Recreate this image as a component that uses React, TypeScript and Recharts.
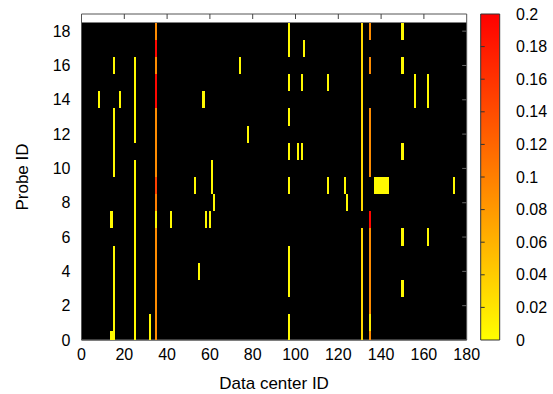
import { ComposedChart, BarChart, Bar, Scatter, XAxis, YAxis, ReferenceArea, ReferenceLine } from 'recharts'

const xTicks = [0, 20, 40, 60, 80, 100, 120, 140, 160, 180]
const yTicks = [0, 2, 4, 6, 8, 10, 12, 14, 16, 18]
const cbTicks = [0, 0.02, 0.04, 0.06, 0.08, 0.1, 0.12, 0.14, 0.16, 0.18, 0.2]

// [data center id, first probe id, last probe id, value]
const cells: [number, number, number, number][] = [
  [8, 14, 14, 0.005],
  [14, 7, 7, 0.005], [14, 0, 0, 0.005],
  [15, 16, 16, 0.005], [15, 10, 13, 0.005], [15, 0, 5, 0.005],
  [18, 14, 14, 0.005],
  [25, 12, 16, 0.005], [25, 0, 10, 0.005],
  [32, 0, 1, 0.005],
  [35, 18, 18, 0.09], [35, 17, 17, 0.195], [35, 16, 16, 0.09], [35, 14, 15, 0.195],
  [35, 10, 13, 0.09], [35, 9, 9, 0.15], [35, 8, 8, 0.1], [35, 7, 7, 0.01], [35, 0, 6, 0.09],
  [42, 7, 7, 0.005],
  [53, 9, 9, 0.005], [55, 4, 4, 0.005], [57, 14, 14, 0.005], [58, 7, 7, 0.005],
  [60, 7, 7, 0.005], [61, 9, 10, 0.005], [62, 8, 8, 0.005], [74, 16, 16, 0.005],
  [78, 12, 12, 0.005],
  [97, 17, 18, 0.005], [97, 15, 15, 0.005], [97, 13, 13, 0.005], [97, 11, 11, 0.005],
  [97, 9, 9, 0.005], [97, 3, 5, 0.005], [97, 0, 1, 0.005],
  [101, 11, 11, 0.005], [103, 15, 15, 0.005], [103, 11, 11, 0.005], [104, 17, 17, 0.005],
  [115, 15, 15, 0.005], [115, 9, 9, 0.005], [123, 9, 9, 0.005], [124, 8, 8, 0.005],
  [131, 8, 18, 0.03], [131, 0, 6, 0.03],
  [135, 18, 18, 0.09], [135, 16, 16, 0.09], [135, 10, 13, 0.09], [135, 7, 7, 0.195],
  [135, 2, 6, 0.09], [135, 1, 1, 0.015], [135, 0, 0, 0.09],
  [137, 9, 9, 0.005], [138, 9, 9, 0.005], [139, 9, 9, 0.005], [140, 9, 9, 0.005],
  [141, 9, 9, 0.005], [142, 9, 9, 0.005], [143, 9, 9, 0.005],
  [150, 18, 18, 0.005], [150, 16, 16, 0.005], [150, 11, 11, 0.005], [150, 6, 6, 0.005],
  [150, 3, 3, 0.005],
  [156, 14, 15, 0.005], [162, 14, 15, 0.005], [162, 6, 6, 0.005], [174, 9, 9, 0.005],
]

const MAX_V = 0.2
const frame = '#555'
const font = '"Liberation Sans", Arial, sans-serif'

// chart box
const W = 553
const H = 394
const M = { top: 14, right: 86.3, bottom: 0, left: 0 }
const Y_AXIS_W = 81.5
const X_AXIS_H = 54
const X_MAX = 180
const Y_MAX = 19
const plotW = W - M.left - M.right - Y_AXIS_W
const plotH = H - M.top - M.bottom - X_AXIS_H
const cellW = plotW / X_MAX
const cellH = plotH / Y_MAX
// inward mirror tick length (px) in data units
const tickX = 4.5 / cellW
const tickY = 5 / cellH

const CB_LEFT = 480.7
const CB_W = 19.3

// one point per heatmap cell
const points = cells.flatMap(([dc, p0, p1, v]) => {
  const out: { dc: number; probe: number; v: number }[] = []
  for (let p = p0; p <= p1; p++) out.push({ dc, probe: p, v })
  return out
})

// yellow (0) -> red (0.2)
const colorOf = (v: number) => `rgb(255,${Math.round(255 * (1 - v / MAX_V))},0)`

const Cell = (props: any) => {
  const { cx, cy, payload } = props
  if (cx == null || cy == null) return null
  // bottom row is clipped at probe 0
  const h = payload.probe === 0 ? cellH / 2 : cellH
  return (
    <rect
      x={cx - cellW / 2}
      y={cy - cellH / 2}
      width={cellW}
      height={h}
      fill={colorOf(payload.v)}
      shapeRendering="crispEdges"
    />
  )
}

const cbData = [{ name: 'cb', v: MAX_V }]

export default function App() {
  return (
    <div style={{ position: 'absolute', left: 0, top: 0, width: W, height: H, background: '#fff', fontFamily: font }}>
      <div style={{ position: 'absolute', left: 0, top: 0 }}>
        <ComposedChart width={W} height={H} margin={M}>
          <XAxis
            dataKey="dc"
            type="number"
            domain={[0, X_MAX]}
            ticks={xTicks}
            height={X_AXIS_H}
            tickSize={0}
            tickMargin={9}
            axisLine={{ stroke: frame }}
            tick={{ fill: '#000', fontSize: 16, fontFamily: font }}
            label={{ value: 'Data center ID', position: 'insideBottom', offset: 5, fill: '#000', fontSize: 17, fontFamily: font }}
          />
          <YAxis
            dataKey="probe"
            type="number"
            domain={[0, Y_MAX]}
            ticks={yTicks}
            width={Y_AXIS_W}
            tickSize={0}
            tickMargin={11}
            axisLine={{ stroke: frame }}
            tick={{ fill: '#000', fontSize: 16, fontFamily: font }}
            label={{ value: 'Probe ID', angle: -90, position: 'insideLeft', offset: 22, fill: '#000', fontSize: 17, fontFamily: font, style: { textAnchor: 'middle' } }}
          />
          <ReferenceArea x1={0} x2={X_MAX} y1={0} y2={18.5} fill="#000" fillOpacity={1} stroke="none" />
          <Scatter data={points} shape={<Cell />} isAnimationActive={false} />
          {xTicks.slice(1, -1).map((t) => (
            <ReferenceLine key={`t${t}`} segment={[{ x: t, y: Y_MAX }, { x: t, y: Y_MAX - tickY }]} stroke="#444" />
          ))}
          {yTicks.slice(1).map((t) => (
            <ReferenceLine key={`r${t}`} segment={[{ x: X_MAX, y: t }, { x: X_MAX - tickX, y: t }]} stroke="#666" />
          ))}
          <ReferenceArea x1={0} x2={X_MAX} y1={0} y2={Y_MAX} fill="none" stroke={frame} />
        </ComposedChart>
      </div>
      <div style={{ position: 'absolute', left: 0, top: 0 }}>
        <BarChart width={W} height={H} data={cbData} margin={{ top: 14, right: 0, bottom: 54, left: CB_LEFT }} barCategoryGap={0}>
          <defs>
            <linearGradient id="cbGrad" x1="0" y1="1" x2="0" y2="0">
              <stop offset="0%" stopColor={colorOf(0)} />
              <stop offset="100%" stopColor={colorOf(MAX_V)} />
            </linearGradient>
          </defs>
          <XAxis dataKey="name" hide />
          <YAxis
            orientation="right"
            type="number"
            domain={[0, MAX_V]}
            ticks={cbTicks}
            width={W - CB_LEFT - CB_W}
            tickSize={0}
            tickMargin={16}
            axisLine={false}
            tickLine={false}
            tickFormatter={(v: number) => String(+v.toFixed(2))}
            tick={{ fill: '#000', fontSize: 16, fontFamily: font }}
          />
          <Bar dataKey="v" fill="url(#cbGrad)" stroke="#333" isAnimationActive={false} />
          {cbTicks.slice(1, -1).map((t) => (
            <ReferenceLine key={t} y={t} stroke="#333" strokeDasharray={`0 ${CB_W - 4} 4`} />
          ))}
        </BarChart>
      </div>
    </div>
  )
}
